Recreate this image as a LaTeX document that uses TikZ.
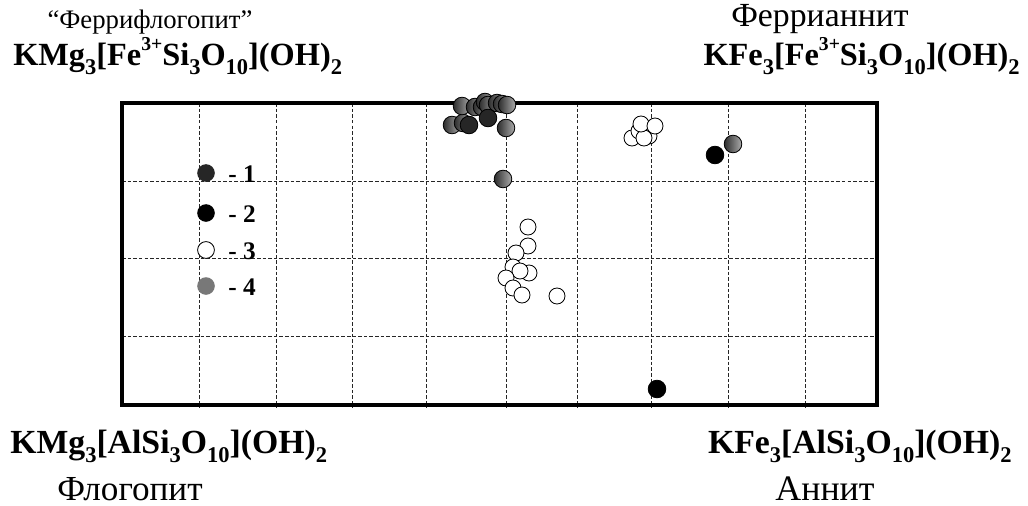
\documentclass[tikz,border=0pt]{standalone}
\usepackage{fontspec}
\setmainfont{Liberation Serif}
\usetikzlibrary{shadings}
\definecolor{DarkGrey}{gray}{0.15}
\definecolor{MidGrey}{gray}{0.47}
\newcommand{\chemsub}[1]{\raisebox{-7pt}{\fontsize{16}{16}\selectfont #1}}
\newcommand{\chemsup}[1]{\raisebox{10.5pt}{\fontsize{14}{14}\selectfont #1}}
\tikzstyle{gridline} = [line width=0.6pt, dash pattern=on 2.5pt off 1.5pt, black!85]
\tikzstyle{dotbase} = [draw=black, line width=0.6pt]
\tikzstyle{dotgrey} = [dotbase, left color=gray!35!black, right color=gray!65]
\tikzstyle{dotopen} = [dotbase, fill=white]
\tikzstyle{dotdark} = [dotbase, fill=DarkGrey]
\tikzstyle{dotblack} = [dotbase, fill=black]
\tikzstyle{formula} = [font=\fontsize{23}{27}\selectfont\bfseries, inner sep=0pt]
\tikzstyle{mineral} = [font=\fontsize{24}{28}\selectfont, inner sep=0pt, anchor=base]
\tikzstyle{legend} = [font=\fontsize{18}{20}\selectfont\bfseries, inner sep=0pt, anchor=base west]

\begin{document}
\begin{tikzpicture}[x=0.025cm, y=-0.025cm]
\useasboundingbox (0,0) rectangle (1028,506);
% grid and frame
\foreach \gx in {199,276,352,426,506,577,651,728,805}
  \path[draw, gridline] (\gx,103)--(\gx,408);
\foreach \gy in {181,258,336}
  \path[draw, gridline] (122,\gy)--(881,\gy);
\draw[line width=3pt] (122,103) rectangle (877,405);
% end members
\node[mineral, font=\fontsize{19}{22}\selectfont] (ferriphl) at (150,28) {“Феррифлогопит”};
\node[formula, anchor=base west] (ferriphlF) at (13,65) {KMg\chemsub{3}[Fe\chemsup{3+}Si\chemsub{3}O\chemsub{10}](OH)\chemsub{2}};
\node[mineral] (ferriann) at (820,26) {Феррианнит};
\node[formula, anchor=base east] (ferriannF) at (1020,65) {KFe\chemsub{3}[Fe\chemsup{3+}Si\chemsub{3}O\chemsub{10}](OH)\chemsub{2}};
\node[formula, font=\fontsize{24}{28}\selectfont\bfseries, anchor=base west] (phlF) at (10,453) {KMg\chemsub{3}[AlSi\chemsub{3}O\chemsub{10}](OH)\chemsub{2}};
\node[mineral, font=\fontsize{25}{29}\selectfont] (phl) at (130,500) {Флогопит};
\node[formula, font=\fontsize{24}{28}\selectfont\bfseries, anchor=base east] (annF) at (1012,453) {KFe\chemsub{3}[AlSi\chemsub{3}O\chemsub{10}](OH)\chemsub{2}};
\node[mineral, font=\fontsize{25.5}{29}\selectfont] (ann) at (825,500) {Аннит};
% legend
\fill[DarkGrey] (206,173) circle (0.22cm);
\fill[black] (206,213) circle (0.22cm);
\path[dotopen] (206,250) circle (0.21cm);
\fill[MidGrey] (206,286) circle (0.22cm);
\node[legend] (leg1) at (228,182) {- 1};
\node[legend] (leg2) at (228,222) {- 2};
\node[legend] (leg3) at (228,259) {- 3};
\node[legend] (leg4) at (228,295) {- 4};
% data
\foreach \px/\py in {452/125,463/123,462/106,475/107,482/107,485/102,488/105,497/103,502/104,507/105}
  \path[dotgrey] (\px,\py) circle (0.22cm);
\foreach \px/\py in {469/125,488/118}
  \path[dotdark] (\px,\py) circle (0.22cm);
\foreach \px/\py in {506/128,503/179,733/144}
  \path[dotgrey] (\px,\py) circle (0.22cm);
\foreach \px/\py in {715/155,657/389}
  \path[dotblack] (\px,\py) circle (0.22cm);
\foreach \px/\py in {632/138,639/131,649/136,644/138,641/124,655/126}
  \path[dotopen] (\px,\py) circle (0.2cm);
\foreach \px/\py in {528/227,528/246,516/253,513/267,529/273,520/271,506/278,513/288,522/295,557/296}
  \path[dotopen] (\px,\py) circle (0.2cm);
\end{tikzpicture}
\end{document}
